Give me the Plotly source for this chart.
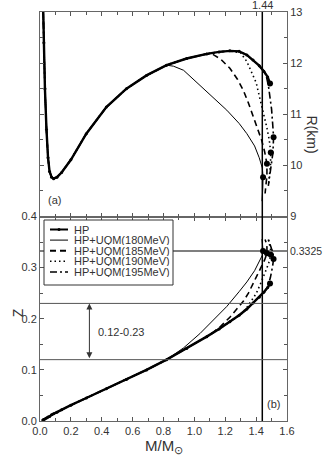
import plotly.graph_objects as go

# HP (hadronic) sequence: mass (Msun), radius (km), surface redshift Z
hp_m = [0.018, 0.025, 0.032, 0.042, 0.052, 0.062, 0.075, 0.088, 0.11, 0.14, 0.2, 0.3, 0.43,
        0.56, 0.69, 0.82, 0.95, 1.08, 1.16, 1.23, 1.29, 1.34, 1.38, 1.42, 1.45, 1.475, 1.49]
hp_r = [13.4, 12.4, 11.5, 10.7, 10.15, 9.88, 9.77, 9.74, 9.77, 9.86, 10.11, 10.62, 11.14,
        11.50, 11.76, 11.96, 12.09, 12.18, 12.22, 12.24, 12.23, 12.16, 12.06, 11.95, 11.84, 11.73, 11.60]
hp_z = [0.002, 0.003, 0.004, 0.006, 0.008, 0.009, 0.012, 0.014, 0.017, 0.022, 0.031, 0.045, 0.063,
        0.081, 0.100, 0.120, 0.142, 0.165, 0.180, 0.194, 0.207, 0.219, 0.231, 0.242, 0.252, 0.261, 0.269]

# hybrid branches (leave the HP curve at the given index)
q180_start = 15
q180_m = [0.865, 0.93, 1.036, 1.12, 1.21, 1.29, 1.34, 1.39, 1.42, 1.44, 1.445, 1.443, 1.438]
q180_r = [11.94, 11.86, 11.57, 11.33, 11.08, 10.82, 10.62, 10.38, 10.15, 9.95, 9.77, 9.55, 9.30]
q180_z = [0.129, 0.143, 0.171, 0.196, 0.224, 0.253, 0.272, 0.294, 0.311, 0.324, 0.3325, 0.343, 0.356]

q185_start = 17
q185_m = [1.12, 1.17, 1.23, 1.28, 1.317, 1.35, 1.38, 1.41, 1.436, 1.455, 1.47, 1.47, 1.465, 1.458]
q185_r = [12.17, 12.08, 11.90, 11.68, 11.47, 11.22, 10.95, 10.72, 10.49, 10.27, 10.03, 9.80, 9.60, 9.45]
q185_z = [0.173, 0.185, 0.203, 0.220, 0.234, 0.250, 0.268, 0.285, 0.302, 0.315, 0.328, 0.340, 0.349, 0.355]

q190_start = 19
q190_m = [1.30, 1.34, 1.37, 1.40, 1.425, 1.446, 1.468, 1.485, 1.495, 1.493, 1.487, 1.48]
q190_r = [12.20, 12.03, 11.82, 11.62, 11.30, 11.05, 10.76, 10.50, 10.25, 10.0, 9.80, 9.62]
q190_z = [0.208, 0.222, 0.236, 0.249, 0.266, 0.280, 0.298, 0.312, 0.325, 0.337, 0.346, 0.354]

q195_start = 24
q195_m = [1.465, 1.48, 1.492, 1.50, 1.507, 1.513, 1.509, 1.50, 1.49, 1.479]
q195_r = [11.76, 11.55, 11.30, 11.10, 10.82, 10.55, 10.25, 10.05, 9.84, 9.60]
q195_z = [0.258, 0.268, 0.280, 0.290, 0.303, 0.317, 0.330, 0.337, 0.345, 0.355]

# maximum-mass configurations (HP, 180, 185, 190, 195)
max_m = [1.49, 1.445, 1.47, 1.495, 1.513]
max_r = [11.60, 9.77, 10.03, 10.25, 10.55]
max_z = [0.269, 0.3325, 0.328, 0.325, 0.317]

m_limit = 1.44
z_limit = 0.3325
z_band = [0.12, 0.23]

legend_names = ["HP", "HP+UQM(180MeV)", "HP+UQM(185MeV)", "HP+UQM(190MeV)", "HP+UQM(195MeV)"]

FONT = "Liberation Sans, Arial, sans-serif"
INK = "#333"

fig = go.Figure()

branches = [
    (q180_start, q180_m, q180_r, q180_z, dict(width=1, dash="solid")),
    (q185_start, q185_m, q185_r, q185_z, dict(width=1.6, dash="6px,4px")),
    (q190_start, q190_m, q190_r, q190_z, dict(width=1.6, dash="1.5px,3px")),
    (q195_start, q195_m, q195_r, q195_z, dict(width=1.6, dash="7px,3px,2px,3px")),
]

for start, bm, br, bz, ln in branches:
    m = hp_m[:start + 1] + bm
    r = hp_r[:start + 1] + br
    z = hp_z[:start + 1] + bz
    fig.add_trace(go.Scatter(x=m, y=r, xaxis="x2", yaxis="y2", mode="lines",
                             line=dict(color="black", **ln), showlegend=False))
    fig.add_trace(go.Scatter(x=m, y=z, xaxis="x", yaxis="y", mode="lines",
                             line=dict(color="black", **ln), showlegend=False))

# HP on top
fig.add_trace(go.Scatter(x=hp_m, y=hp_r, xaxis="x2", yaxis="y2", mode="lines+markers",
                         line=dict(color="black", width=2.4), marker=dict(size=3, color="black"),
                         showlegend=False))
fig.add_trace(go.Scatter(x=hp_m, y=hp_z, xaxis="x", yaxis="y", mode="lines+markers",
                         line=dict(color="black", width=2.4), marker=dict(size=3, color="black"),
                         showlegend=False))

fig.add_trace(go.Scatter(x=max_m, y=max_r, xaxis="x2", yaxis="y2", mode="markers",
                         marker=dict(size=6, color="black"), showlegend=False))
fig.add_trace(go.Scatter(x=max_m, y=max_z, xaxis="x", yaxis="y", mode="markers",
                         marker=dict(size=6, color="black"), showlegend=False))

axis_common = dict(showgrid=False, zeroline=False, ticks="inside", ticklen=4, tickcolor="#555",
                   showline=True, linecolor="#666", linewidth=1, mirror="ticks", automargin=False,
                   tickfont=dict(size=11, color=INK, family=FONT))

fig.update_layout(
    width=327, height=459,
    margin=dict(l=40, r=40, t=12, b=38),
    paper_bgcolor="white", plot_bgcolor="white",
    font=dict(family=FONT, color=INK, size=11),
    showlegend=False,
    xaxis=dict(domain=[0, 1], anchor="y", range=[0, 1.6], dtick=0.2, tickformat=".1f",
               minor=dict(dtick=0.1, ticks="inside", ticklen=3, tickcolor="#555"),
               **axis_common),
    xaxis2=dict(domain=[0, 1], anchor="y2", matches="x", range=[0, 1.6], dtick=0.2,
                showticklabels=False,
                minor=dict(dtick=0.1, ticks="inside", ticklen=3, tickcolor="#555"),
                **axis_common),
    yaxis=dict(domain=[0, 0.5], anchor="x", range=[0, 0.4], dtick=0.1, tickformat=".1f",
               minor=dict(dtick=0.05, ticks="inside", ticklen=3, tickcolor="#555"),
               **axis_common),
    yaxis2=dict(domain=[0.5, 1], anchor="x2", side="right", range=[9, 13], dtick=1,
                minor=dict(dtick=0.5, ticks="inside", ticklen=3, tickcolor="#555"),
                **axis_common),
)

# axis titles
fig.add_annotation(x=0.5, y=-0.035, xref="paper", yref="paper", text="M/M<sub>⊙</sub>",
                   showarrow=False, yanchor="top", font=dict(size=15, color=INK))
fig.add_annotation(x=-0.13, y=0.25, xref="paper", yref="paper", text="Z", showarrow=False,
                   textangle=-90, font=dict(size=14, color=INK))
fig.add_annotation(x=1.14, y=0.753, xref="paper", yref="paper", text="R(km)", showarrow=False,
                   textangle=90, font=dict(size=14, color=INK))

# reference lines
fig.add_shape(type="line", xref="x", yref="paper", x0=m_limit, x1=m_limit, y0=0, y1=1,
              line=dict(color="black", width=1.5))
fig.add_shape(type="line", xref="paper", yref="y", x0=0, x1=1, y0=z_limit, y1=z_limit,
              line=dict(color="black", width=1.2))
for zb in z_band:
    fig.add_shape(type="line", xref="paper", yref="y", x0=0, x1=1, y0=zb, y1=zb,
                  line=dict(color="#555", width=1))

fig.add_annotation(x=0.32, y=z_band[1], ax=0.32, ay=z_band[0], xref="x", yref="y",
                   axref="x", ayref="y", text="", showarrow=True, arrowhead=2,
                   arrowside="end+start", arrowsize=1.2, arrowwidth=1, arrowcolor="#333")
fig.add_annotation(x=0.36, y=0.175, xref="x", yref="y", text="0.12-0.23", showarrow=False,
                   xanchor="left", font=dict(size=11, color=INK))

fig.add_annotation(x=m_limit, y=1, xref="x", yref="paper", text="1.44", showarrow=False,
                   yanchor="bottom", yshift=-1, font=dict(size=11, color=INK))
fig.add_annotation(x=1.005, y=z_limit, xref="paper", yref="y", text="0.3325", showarrow=False,
                   xanchor="left", font=dict(size=10.5, color=INK))
fig.add_annotation(x=0.04, y=9.33, xref="x2", yref="y2", text="(a)", showarrow=False,
                   xanchor="left", font=dict(size=11, color=INK))
fig.add_annotation(x=1.51, y=0.033, xref="x", yref="y", text="(b)", showarrow=False,
                   font=dict(size=11, color=INK))

# hand-drawn legend box
def px(x):
    return (x - 40) / 247

def py(y):
    return (421 - y) / 409

fig.add_shape(type="rect", xref="paper", yref="paper", x0=px(44), x1=px(173), y0=py(220), y1=py(285),
              line=dict(color="#333", width=1), fillcolor="white", layer="above")
styles = [dict(width=2, dash="solid"), dict(width=1, dash="solid"), dict(width=2, dash="6px,4px"),
          dict(width=1.5, dash="1.5px,3px"), dict(width=1.5, dash="7px,3px,2px,3px")]
for i, (name, st) in enumerate(zip(legend_names, styles)):
    yy = 229.5 + i * 10.6
    fig.add_shape(type="line", xref="paper", yref="paper", x0=px(50), x1=px(68), y0=py(yy), y1=py(yy),
                  line=dict(color="black", **st), layer="above")
    fig.add_annotation(x=px(73), y=py(yy), xref="paper", yref="paper", text=name, showarrow=False,
                       xanchor="left", yanchor="middle", height=10, borderpad=0,
                       font=dict(size=11, color=INK))
fig.add_shape(type="circle", xref="paper", yref="paper", x0=px(57.5), x1=px(60.5),
              y0=py(231), y1=py(228), fillcolor="black", line=dict(color="black", width=0), layer="above")

fig.write_html("out.html", config={"displayModeBar": False},
               post_script="document.body.style.margin='0px';")
